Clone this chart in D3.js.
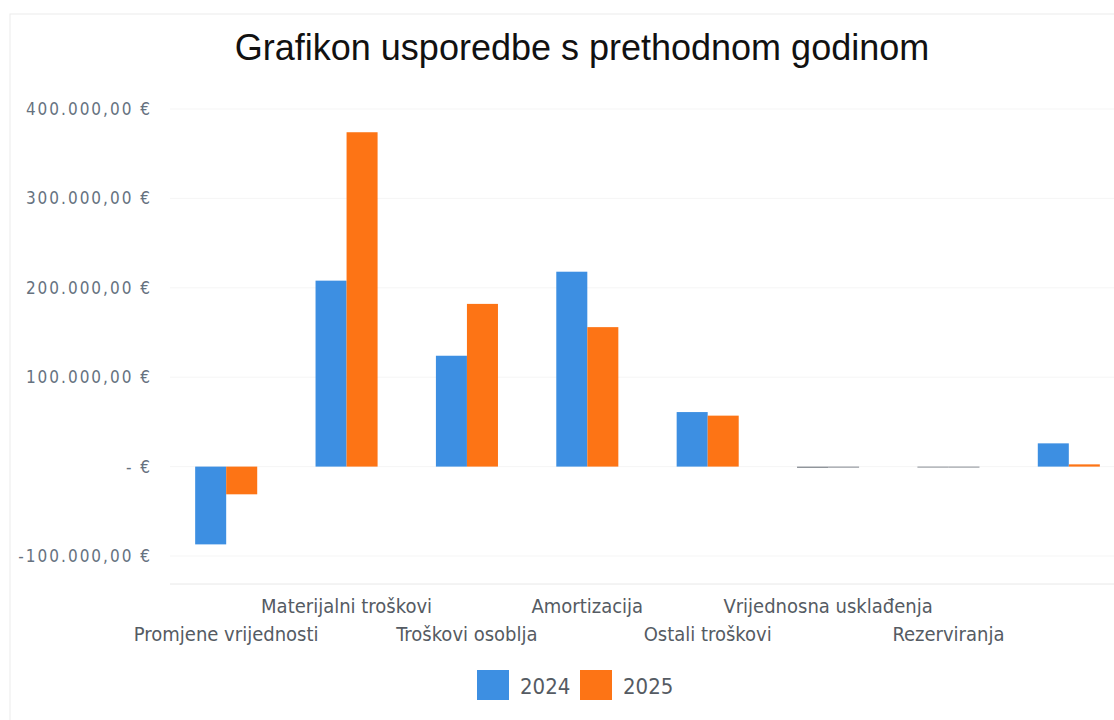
<!DOCTYPE html>
<html>
<head>
    <meta charset="utf-8">
    <title>Grafikon usporedbe</title>
    <script src="https://d3js.org/d3.v7.min.js"></script>
    <style>
        body { margin: 0; background: #fff; }
        .title { font-family: "Liberation Sans", Arial, sans-serif; font-size: 36px; fill: #111; }
        .tick-label { font-family: "DejaVu Sans Condensed", "Liberation Sans Narrow", sans-serif; font-size: 17px; letter-spacing: 2px; fill: #66727f; }
        .cat-label { font-family: "DejaVu Sans Condensed", "Liberation Sans Narrow", sans-serif; font-size: 20px; fill: #555b63; }
        .legend-label { font-family: "DejaVu Sans Condensed", "Liberation Sans Narrow", sans-serif; font-size: 22px; fill: #555b63; }
    </style>
</head>
<body>
    <div id="chart"></div>
    <script>
        // chart values
        const categories = ['Promjene vrijednosti', 'Materijalni troškovi', 'Troškovi osoblja', 'Amortizacija',
            'Ostali troškovi', 'Vrijednosna usklađenja', 'Rezerviranja', ''];
        const years = ['2024', '2025'];
        const values2024 = [-87000, 208000, 124000, 218000, 61000, -1500, -1000, 26000];
        const values2025 = [-31000, 374000, 182000, 156000, 57000, -1200, -900, 2500];
        const yTicks = [-100000, 0, 100000, 200000, 300000, 400000];
        const colors = ['#3d8fe2', '#fd7415'];

        const width = 1114;
        const height = 720;

        const svg = d3.select('#chart')
            .append('svg')
            .attr('width', width)
            .attr('height', height);

        // faint frame
        svg.append('rect')
            .attr('x', 10).attr('y', 14)
            .attr('width', width).attr('height', height)
            .attr('fill', 'none')
            .attr('stroke', '#ececec');

        svg.append('text')
            .attr('class', 'title')
            .attr('x', 582)
            .attr('y', 60)
            .attr('text-anchor', 'middle')
            .text('Grafikon usporedbe s prethodnom godinom');

        const y = d3.scaleLinear()
            .domain([-100000, 400000])
            .range([556, 109]);

        const x = d3.scaleBand()
            .domain(categories.map((c, i) => i))
            .range([166, 1129]);

        const x1 = d3.scaleBand()
            .domain(years)
            .range([0, x.bandwidth()])
            .paddingOuter(0.94);

        // gridlines
        svg.append('g')
            .selectAll('line')
            .data(yTicks)
            .join('line')
            .attr('x1', 170).attr('x2', width)
            .attr('y1', d => y(d)).attr('y2', d => y(d))
            .attr('stroke', '#f5f5f5');

        svg.append('line')
            .attr('x1', 170).attr('x2', width)
            .attr('y1', 584).attr('y2', 584)
            .attr('stroke', '#e8e8e8');

        // y tick labels (hr accounting style)
        const fmt = v => {
            if (v === 0) return '-  €';
            const s = d3.format(',.2f')(v).replace('−', '-')
                .replace(/,/g, ' ').replace('.', ',').replace(/ /g, '.');
            return s + ' €';
        };
        svg.append('g')
            .selectAll('text')
            .data(yTicks)
            .join('text')
            .attr('class', 'tick-label')
            .attr('x', 152)
            .attr('y', d => y(d) + 6)
            .attr('text-anchor', 'end')
            .text(fmt);

        // bars
        const series = [values2024, values2025];
        const groups = svg.append('g')
            .selectAll('g')
            .data(categories.map((c, i) => i))
            .join('g')
            .attr('transform', i => `translate(${x(i)},0)`);

        groups.selectAll('rect')
            .data(i => years.map((yr, k) => ({ yr, k, v: series[k][i] })))
            .join('rect')
            .attr('x', d => x1(d.yr))
            .attr('width', x1.bandwidth())
            .attr('y', d => y(Math.max(0, d.v)))
            .attr('height', d => Math.max(1, Math.abs(y(d.v) - y(0))))
            .attr('fill', d => Math.abs(d.v) < 2000 ? '#8a8f96' : colors[d.k]);

        // category labels, alternating rows
        svg.append('g')
            .selectAll('text')
            .data(categories)
            .join('text')
            .attr('class', 'cat-label')
            .attr('x', (d, i) => x(i) + x.bandwidth() / 2)
            .attr('y', (d, i) => i % 2 === 0 ? 641 : 613)
            .attr('text-anchor', 'middle')
            .text(d => d);

        // legend
        const legend = svg.append('g').attr('transform', 'translate(477,670)');
        years.forEach((yr, k) => {
            const g = legend.append('g').attr('transform', `translate(${k * 103},0)`);
            g.append('rect').attr('width', 32).attr('height', 30).attr('fill', colors[k]);
            g.append('text').attr('class', 'legend-label')
                .attr('x', 43).attr('y', 24).text(yr);
        });
    </script>
</body>
</html>
